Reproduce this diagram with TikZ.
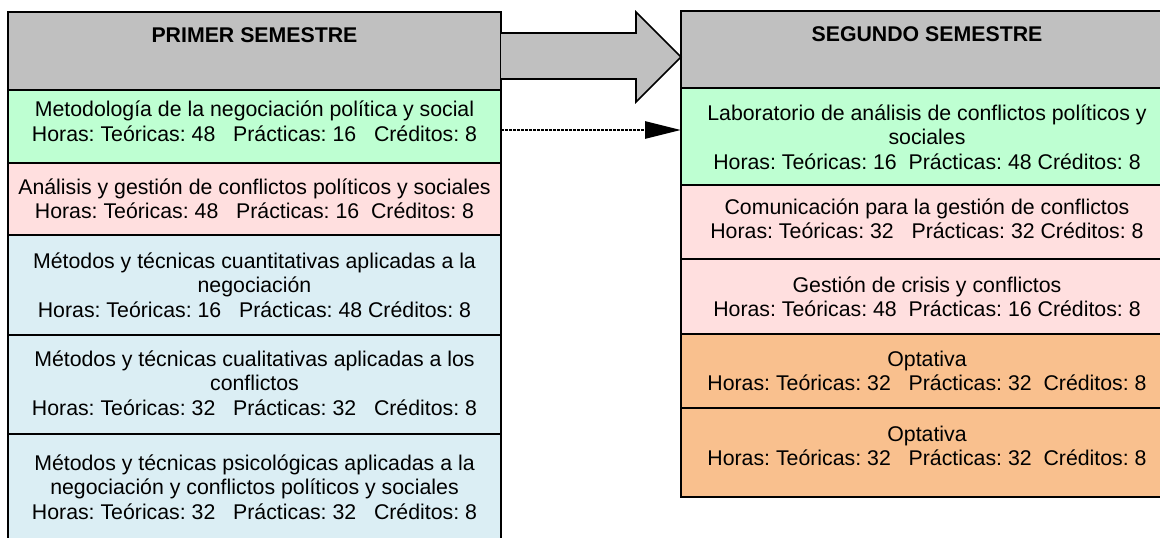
\documentclass[tikz,border=0pt]{standalone}
\usepackage{fontspec}
\setmainfont{Liberation Sans}
\usetikzlibrary{arrows.meta}
\definecolor{hdr}{RGB}{192,192,192}
\definecolor{cgreen}{RGB}{190,255,210}
\definecolor{cpink}{RGB}{255,223,223}
\definecolor{cblue}{RGB}{219,238,244}
\definecolor{corange}{RGB}{249,192,142}
\frenchspacing
\begin{document}
\begin{tikzpicture}[x=1pt,y=-1pt,
  cell/.style={draw=black,line width=1.6pt,anchor=north west,inner sep=0pt,outer sep=0pt},
  lcell/.style={cell,minimum width=493pt},
  rcell/.style={cell,minimum width=492pt},
  txt/.style={align=center,font=\fontsize{21.3}{24.5}\selectfont\frenchspacing,inner sep=0pt,text=black},
  hd/.style={txt,font=\fontsize{21.3}{24.5}\selectfont\bfseries},
  bigarrow/.style={fill=hdr,draw=black,line width=1.6pt,line join=miter},
  dasharrow/.style={line width=2.8pt,dash pattern=on 2.6pt off 1.4pt,-{Triangle[length=36pt,width=17pt]}}]
\clip (0,0) rectangle (1160,538);
\fill[white] (0,0) rectangle (1160,538);
% left column
\node[lcell,fill=hdr,minimum height=78pt] (lh) at (8,12) {};
\node[lcell,fill=cgreen,minimum height=73pt] (lg) at (8,90) {};
\node[lcell,fill=cpink,minimum height=72pt] (lp) at (8,163) {};
\node[lcell,fill=cblue,minimum height=100pt] (lb1) at (8,235) {};
\node[lcell,fill=cblue,minimum height=99pt] (lb2) at (8,335) {};
\node[lcell,fill=cblue,minimum height=130pt] (lb3) at (8,434) {};
% right column
\node[rcell,fill=hdr,minimum height=77pt] (rh) at (681,11) {};
\node[rcell,fill=cgreen,minimum height=97pt] (rg) at (681,88) {};
\node[rcell,fill=cpink,minimum height=74pt] (rp1) at (681,185) {};
\node[rcell,fill=cpink,minimum height=75pt] (rp2) at (681,259) {};
\node[rcell,fill=corange,minimum height=74pt] (ro1) at (681,334) {};
\node[rcell,fill=corange,minimum height=89pt] (ro2) at (681,408) {};
% big arrow
\path[bigarrow] (lh.east |- 0,33) -- (636,33) -- (636,12) -- (rh.west |- 0,57) -- (636,102) -- (636,79) -- (lh.east |- 0,79);
% dashed arrow
\coordinate (dy) at (0,130);
\draw[dasharrow] (lg.east |- dy) -- (rg.west |- dy);
% left texts
\node[hd] (lht) at (254.5,35) {PRIMER SEMESTRE};
\node[txt] (lgt) at (254.5,121.5) {Metodología de la negociación política y social\\Horas: Teóricas: 48~~~Prácticas: 16~~~Créditos: 8};
\node[txt] (lpt) at (254.5,199) {Análisis y gestión de conflictos políticos y sociales\\Horas: Teóricas: 48~~~Prácticas: 16~~Créditos: 8};
\node[txt] (lb1t) at (254.5,285) {Métodos y técnicas cuantitativas aplicadas a la\\negociación\\Horas: Teóricas: 16~~~Prácticas: 48 Créditos: 8};
\node[txt] (lb2t) at (254.5,383) {Métodos y técnicas cualitativas aplicadas a los\\conflictos\\Horas: Teóricas: 32~~~Prácticas: 32~~~Créditos: 8};
\node[txt] (lb3t) at (254.5,487) {Métodos y técnicas psicológicas aplicadas a la\\negociación y conflictos políticos y sociales\\Horas: Teóricas: 32~~~Prácticas: 32~~~Créditos: 8};
% right texts
\node[hd] (rht) at (927,34) {SEGUNDO SEMESTRE};
\node[txt] (rgt) at (927,137) {Laboratorio de análisis de conflictos políticos y\\sociales\\Horas: Teóricas: 16~~Prácticas: 48 Créditos: 8};
\node[txt] (rp1t) at (927,219) {Comunicación para la gestión de conflictos\\Horas: Teóricas: 32~~~Prácticas: 32 Créditos: 8};
\node[txt] (rp2t) at (927,297) {Gestión de crisis y conflictos\\Horas: Teóricas: 48~~Prácticas: 16 Créditos: 8};
\node[txt] (ro1t) at (927,371) {Optativa\\Horas: Teóricas: 32~~~Prácticas: 32~~Créditos: 8};
\node[txt] (ro2t) at (927,446) {Optativa\\Horas: Teóricas: 32~~~Prácticas: 32~~Créditos: 8};
\end{tikzpicture}
\end{document}
